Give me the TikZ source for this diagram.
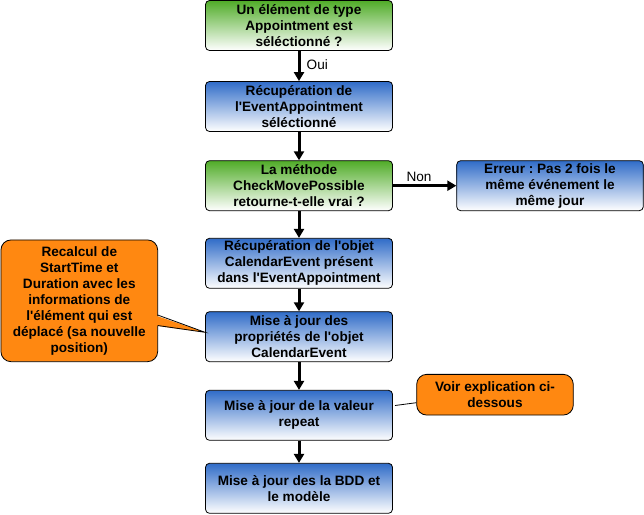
\documentclass[tikz,border=0pt]{standalone}
\usepackage{fontspec}
\setmainfont{Liberation Sans}
\usetikzlibrary{arrows.meta}
\definecolor{vert}{RGB}{80,172,40}
\definecolor{bleu}{RGB}{48,108,200}
\definecolor{orangeb}{RGB}{255,136,17}
\newcommand{\apos}{\textquotesingle}
\frenchspacing

\begin{document}
\begin{tikzpicture}[x=1pt, y=-1pt,
  every node/.style={font=\fontsize{13.6}{16}\selectfont\bfseries},
  etape/.style={draw, line width=0.8pt, rounded corners=4pt, minimum width=187pt, minimum height=50pt, align=center, inner sep=0pt, top color=bleu, bottom color=white},
  test/.style={etape, top color=vert, bottom color=white},
  note/.style={draw, line width=0.8pt, rounded corners=10pt, fill=orangeb, align=center, inner sep=0pt},
  fleche/.style={line width=3pt, -{Triangle[width=10pt,length=9pt]}},
  lbl/.style={font=\fontsize{13.6}{16}\selectfont, inner sep=0pt}]
\useasboundingbox (0,0) rectangle (644,514);
% main column
\node[test] (q1) at (299,25.5) {Un élément de type\\Appointment est\\séléctionné ?};
\node[etape] (recup) at (299,106.5) {Récupération de\\l\apos EventAppointment\\séléctionné};
\node[test] (verif) at (299,185.7) {La méthode\\CheckMovePossible\\retourne-t-elle vrai ?};
\node[etape] (recupObj) at (299,263.3) {Récupération de l\apos objet\\CalendarEvent présent\\dans l\apos EventAppointment};
\node[etape] (majProp) at (299,336.7) {Mise à jour des\\propriétés de l\apos objet\\CalendarEvent};
\node[etape] (majRepeat) at (299,415.3) {Mise à jour de la valeur\\repeat};
\node[etape] (majBdd) at (299,488.3) {Mise à jour des la BDD et\\le modèle};
% error box
\node[etape, minimum width=186.6pt] (erreur) at (550,185.7) {Erreur : Pas 2 fois le\\même événement le\\même jour};
% arrows
\draw[fleche] (q1) -- (recup);
\draw[fleche] (recup) -- (verif);
\draw[fleche] (verif) -- (recupObj);
\draw[fleche] (recupObj) -- (majProp);
\draw[fleche] (majProp) -- (majRepeat);
\draw[fleche] (majRepeat) -- (majBdd);
\draw[fleche] (verif) -- (erreur);
% labels
\node[lbl, anchor=west] (oui) at (306.5,65) {Oui};
\node[lbl] (non) at (419,176.7) {Non};
% left note
\node[note, minimum width=156.7pt, minimum height=121.7pt] (noteCalc) at (79.3,300.8) {Recalcul de\\StartTime et\\Duration avec les\\informations de\\l\apos élément qui est\\déplacé (sa nouvelle\\position)};
\coordinate (pointeG) at (205,332.3);
\coordinate (baseH) at (157.65,315);
\coordinate (baseB) at (157.65,325.5);
\fill[orangeb] (154,315) -- (pointeG) -- (154,325.5) -- cycle;
\draw[line width=0.8pt] (baseH) -- (pointeG) -- (baseB);
% right note
\node[note, minimum width=156.6pt, minimum height=40.7pt] (noteRepeat) at (495,394.7) {Voir explication ci-\\dessous};
\coordinate (pointeD) at (395,405.5);
\draw[line width=0.8pt] (pointeD) -- (noteRepeat.west |- 0,402.7);
\end{tikzpicture}
\end{document}
